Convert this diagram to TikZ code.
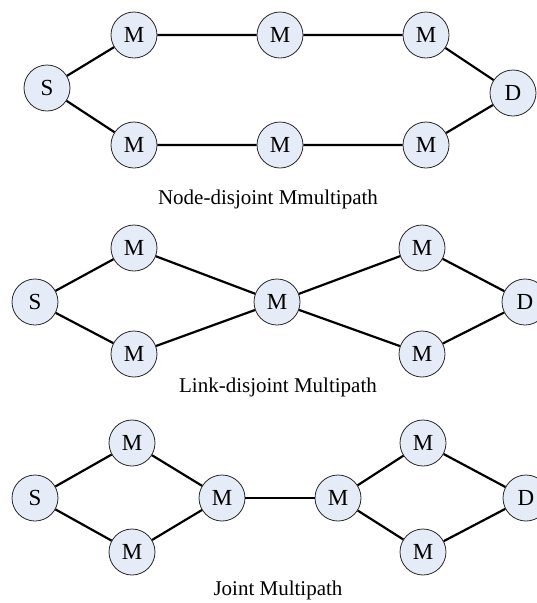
\documentclass[tikz,border=0pt]{standalone}
\usepackage{fontspec}
\setmainfont{Liberation Serif}
\definecolor{nodefill}{RGB}{230,236,247}
\definecolor{nodeline}{RGB}{40,40,40}
\begin{document}
\begin{tikzpicture}[x=1pt,y=-1pt,
  nd/.style={circle,draw=nodeline,line width=0.8pt,fill=nodefill,minimum size=46pt,inner sep=0pt,font=\fontsize{23}{26}\selectfont},
  ln/.style={line width=2.2pt,black},
  captxt/.style={font=\fontsize{21}{24}\selectfont,inner sep=0pt}]
\useasboundingbox (0,0) rectangle (537,603);
% top
\node[nd] (aS) at (47,88) {S};
\node[nd] (aT1) at (134,35) {M};
\node[nd] (aT2) at (280,35) {M};
\node[nd] (aT3) at (426,35) {M};
\node[nd] (aB1) at (134,145) {M};
\node[nd] (aB2) at (280,145) {M};
\node[nd] (aB3) at (426,145) {M};
\node[nd] (aD) at (513,93) {D};
\draw[ln] (aS) -- (aT1) -- (aT2) -- (aT3) -- (aD);
\draw[ln] (aS) -- (aB1) -- (aB2) -- (aB3) -- (aD);
\node[captxt] (acap) at (268,199) {Node-disjoint Mmultipath};
% middle
\node[nd] (bS) at (35,302) {S};
\node[nd] (bT) at (134,248) {M};
\node[nd] (bB) at (134,354) {M};
\node[nd] (bC) at (277,302) {M};
\node[nd] (bRT) at (422,248) {M};
\node[nd] (bRB) at (422,354) {M};
\node[nd] (bD) at (525,302) {D};
\draw[ln] (bS) -- (bT) -- (bC) -- (bRT) -- (bD);
\draw[ln] (bS) -- (bB) -- (bC) -- (bRB) -- (bD);
\node[captxt] (bcap) at (278,387) {Link-disjoint Multipath};
% bottom
\node[nd] (cS) at (35,498) {S};
\node[nd] (cT) at (132,443) {M};
\node[nd] (cB) at (132,552) {M};
\node[nd] (cL) at (222,498) {M};
\node[nd] (cR) at (338,498) {M};
\node[nd] (cRT) at (423,443) {M};
\node[nd] (cRB) at (423,552) {M};
\node[nd] (cD) at (526,498) {D};
\draw[ln] (cS) -- (cT) -- (cL) -- (cB) -- (cS);
\draw[ln] (cL) -- (cR);
\draw[ln] (cR) -- (cRT) -- (cD) -- (cRB) -- (cR);
\node[captxt] (ccap) at (278,590) {Joint Multipath};
\end{tikzpicture}
\end{document}
